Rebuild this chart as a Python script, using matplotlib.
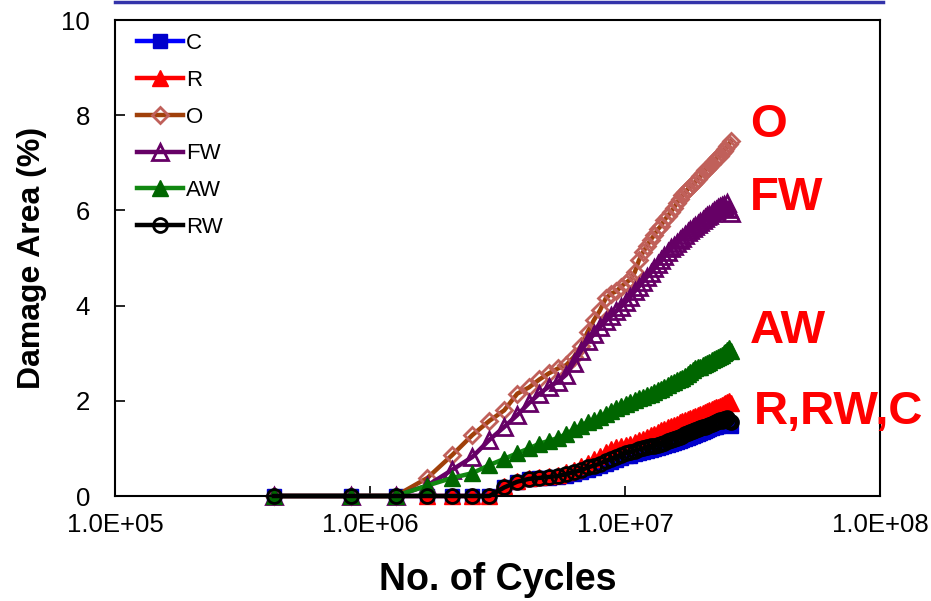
import numpy as np
import matplotlib.pyplot as plt
from matplotlib.lines import Line2D
from matplotlib.ticker import FuncFormatter, FixedLocator, NullLocator

plt.rcParams['font.family'] = ['Liberation Sans', 'DejaVu Sans']

# number of cycles
cycles = np.array([
    0.42, 0.84, 1.26, 1.68, 2.10, 2.52, 2.94, 3.36, 3.78, 4.20,
    4.62, 5.04, 5.46, 5.88, 6.30, 6.72, 7.14, 7.56, 7.98, 8.40,
    8.82, 9.24, 9.66, 10.08, 10.50, 10.92, 11.34, 11.76, 12.18, 12.60,
    13.02, 13.44, 13.86, 14.28, 14.70, 15.12, 15.54, 15.96, 16.38, 16.80,
    17.22, 17.64, 18.06, 18.48, 18.90, 19.32, 19.74, 20.16, 20.58, 21.00,
    21.42, 21.84, 22.26, 22.68, 23.10, 23.52, 23.94, 24.36, 24.78, 25.20,
    25.62, 26.04]) * 1e6

# damage area (%)
dmg_C = [
    0, 0, 0, 0, 0, 0, 0, 0.18, 0.30, 0.35,
    0.37, 0.38, 0.40, 0.43, 0.46, 0.50, 0.55, 0.59, 0.63, 0.68,
    0.72, 0.76, 0.80, 0.83, 0.85, 0.88, 0.91, 0.93, 0.95, 0.97,
    0.99, 1.01, 1.03, 1.05, 1.07, 1.10, 1.12, 1.14, 1.16, 1.18,
    1.20, 1.22, 1.24, 1.26, 1.28, 1.30, 1.32, 1.34, 1.36, 1.38,
    1.40, 1.42, 1.44, 1.46, 1.48, 1.50, 1.50, 1.52, 1.54, 1.55,
    1.52, 1.48]
dmg_R = [
    0, 0, 0, 0, 0, 0, 0, 0.20, 0.32, 0.38,
    0.40, 0.42, 0.45, 0.50, 0.55, 0.62, 0.70, 0.78, 0.85, 0.92,
    0.98, 1.02, 1.05, 1.08, 1.10, 1.14, 1.18, 1.20, 1.24, 1.28,
    1.30, 1.34, 1.38, 1.40, 1.44, 1.48, 1.50, 1.52, 1.55, 1.58,
    1.60, 1.62, 1.64, 1.66, 1.68, 1.70, 1.72, 1.74, 1.76, 1.78,
    1.80, 1.82, 1.85, 1.86, 1.88, 1.90, 1.92, 1.94, 1.96, 1.98,
    2.00, 1.95]
dmg_O = [
    0, 0, 0, 0.38, 0.86, 1.28, 1.58, 1.80, 2.15, 2.28,
    2.45, 2.58, 2.68, 2.75, 2.92, 3.15, 3.45, 3.70, 3.90, 4.15,
    4.25, 4.30, 4.40, 4.48, 4.55, 4.70, 4.95, 5.12, 5.25, 5.38,
    5.48, 5.60, 5.68, 5.80, 5.88, 5.97, 6.05, 6.15, 6.25, 6.32,
    6.38, 6.45, 6.50, 6.55, 6.60, 6.66, 6.72, 6.78, 6.84, 6.88,
    6.92, 6.98, 7.04, 7.08, 7.12, 7.15, 7.20, 7.25, 7.30, 7.35,
    7.40, 7.45]
dmg_FW = [
    0, 0, 0, 0.22, 0.55, 0.82, 1.18, 1.45, 1.70, 1.95,
    2.15, 2.30, 2.40, 2.55, 2.80, 3.05, 3.25, 3.40, 3.55, 3.68,
    3.78, 3.88, 3.98, 4.08, 4.18, 4.30, 4.40, 4.50, 4.60, 4.68,
    4.78, 4.88, 4.95, 5.05, 5.12, 5.20, 5.26, 5.32, 5.38, 5.42,
    5.48, 5.54, 5.58, 5.63, 5.67, 5.72, 5.76, 5.80, 5.84, 5.88,
    5.91, 5.94, 5.98, 6.01, 6.04, 6.07, 6.10, 6.12, 6.05, 6.15,
    6.02, 5.95]
dmg_AW = [
    0, 0, 0, 0.22, 0.38, 0.48, 0.65, 0.78, 0.90, 1.00,
    1.10, 1.16, 1.22, 1.30, 1.40, 1.48, 1.55, 1.60, 1.66, 1.72,
    1.78, 1.84, 1.90, 1.94, 1.98, 2.02, 2.05, 2.08, 2.12, 2.15,
    2.18, 2.22, 2.25, 2.30, 2.34, 2.38, 2.40, 2.43, 2.46, 2.48,
    2.52, 2.56, 2.60, 2.64, 2.68, 2.70, 2.72, 2.75, 2.78, 2.80,
    2.82, 2.85, 2.88, 2.90, 2.92, 2.94, 2.97, 3.00, 3.03, 3.06,
    3.10, 3.05]
dmg_RW = [
    0, 0, 0, 0, 0, 0, 0, 0.18, 0.30, 0.36,
    0.38, 0.40, 0.42, 0.46, 0.50, 0.54, 0.60, 0.64, 0.68, 0.74,
    0.78, 0.82, 0.86, 0.90, 0.92, 0.95, 0.98, 1.00, 1.02, 1.04,
    1.06, 1.08, 1.10, 1.12, 1.15, 1.18, 1.20, 1.22, 1.25, 1.27,
    1.30, 1.32, 1.34, 1.36, 1.38, 1.40, 1.42, 1.44, 1.46, 1.48,
    1.50, 1.52, 1.54, 1.56, 1.58, 1.60, 1.58, 1.62, 1.60, 1.64,
    1.58, 1.55]

xticks = [1e5, 1e6, 1e7, 1e8]
yticks = [0, 2, 4, 6, 8, 10]

fig = plt.figure(figsize=(9.31, 6.01), dpi=100)
ax = fig.add_axes([115/931, 105/601, 765/931, 476/601])

lw = 3.2
ax.plot(cycles, dmg_C, color='#0000ff', lw=lw, marker='s', ms=10,
        mfc='#0000cc', mec='#0000cc', label='C', clip_on=False)
ax.plot(cycles, dmg_R, color='#ff0000', lw=lw, marker='^', ms=11,
        mfc='#ff0000', mec='#ff0000', label='R', clip_on=False)
ax.plot(cycles, dmg_O, color='#a0400a', lw=lw, marker='D', ms=8.5,
        mfc='none', mec='#c0605a', mew=2, label='O', clip_on=False)
ax.plot(cycles, dmg_FW, color='#660066', lw=lw, marker='^', ms=11,
        mfc='none', mec='#660066', mew=2, label='FW', clip_on=False)
ax.plot(cycles, dmg_AW, color='#118811', lw=lw, marker='^', ms=11,
        mfc='#006600', mec='#006600', label='AW', clip_on=False)
ax.plot(cycles, dmg_RW, color='black', lw=lw, marker='o', ms=10,
        mfc='none', mec='black', mew=2, label='RW', clip_on=False)

ax.set_xscale('log')
ax.set_xlim(1e5, 1e8)
ax.set_ylim(0, 10)
ax.xaxis.set_major_locator(FixedLocator(xticks))
ax.xaxis.set_minor_locator(NullLocator())
ax.xaxis.set_major_formatter(FuncFormatter(lambda v, p: f'{v:.1E}'))
ax.set_yticks(yticks)
ax.tick_params(direction='in', length=7, width=1.2, labelsize=18.5)
ax.tick_params(axis='y', pad=18)
ax.tick_params(axis='x', pad=12)
for s in ax.spines.values():
    s.set_linewidth(1.5)

ax.set_xlabel('No. of Cycles', fontsize=27, fontweight='bold', labelpad=18)
ax.set_ylabel('Damage Area (%)', fontsize=23, fontweight='bold', labelpad=10)

ax.legend(loc='upper left', bbox_to_anchor=(22/765, 1 - 13/476), frameon=False,
          fontsize=16, numpoints=1, handlelength=2.07, handletextpad=0.12,
          labelspacing=0.71, borderaxespad=0, borderpad=0)

lab_kw = dict(color='#ff0000', fontsize=34, fontweight='bold', va='center',
              ha='left', clip_on=False)
ax.text(3.1e7, 7.79, 'O', **lab_kw)
ax.text(3.1e7, 6.25, 'FW', **lab_kw)
ax.text(3.1e7, 3.47, 'AW', **lab_kw)
ax.text(3.2e7, 1.77, 'R,RW,C', **lab_kw)

fig.add_artist(Line2D([115/931, 883/931], [1 - 1.5/601, 1 - 1.5/601],
                      color='#3333aa', lw=2.5))

fig.savefig('out.png', dpi=100)
